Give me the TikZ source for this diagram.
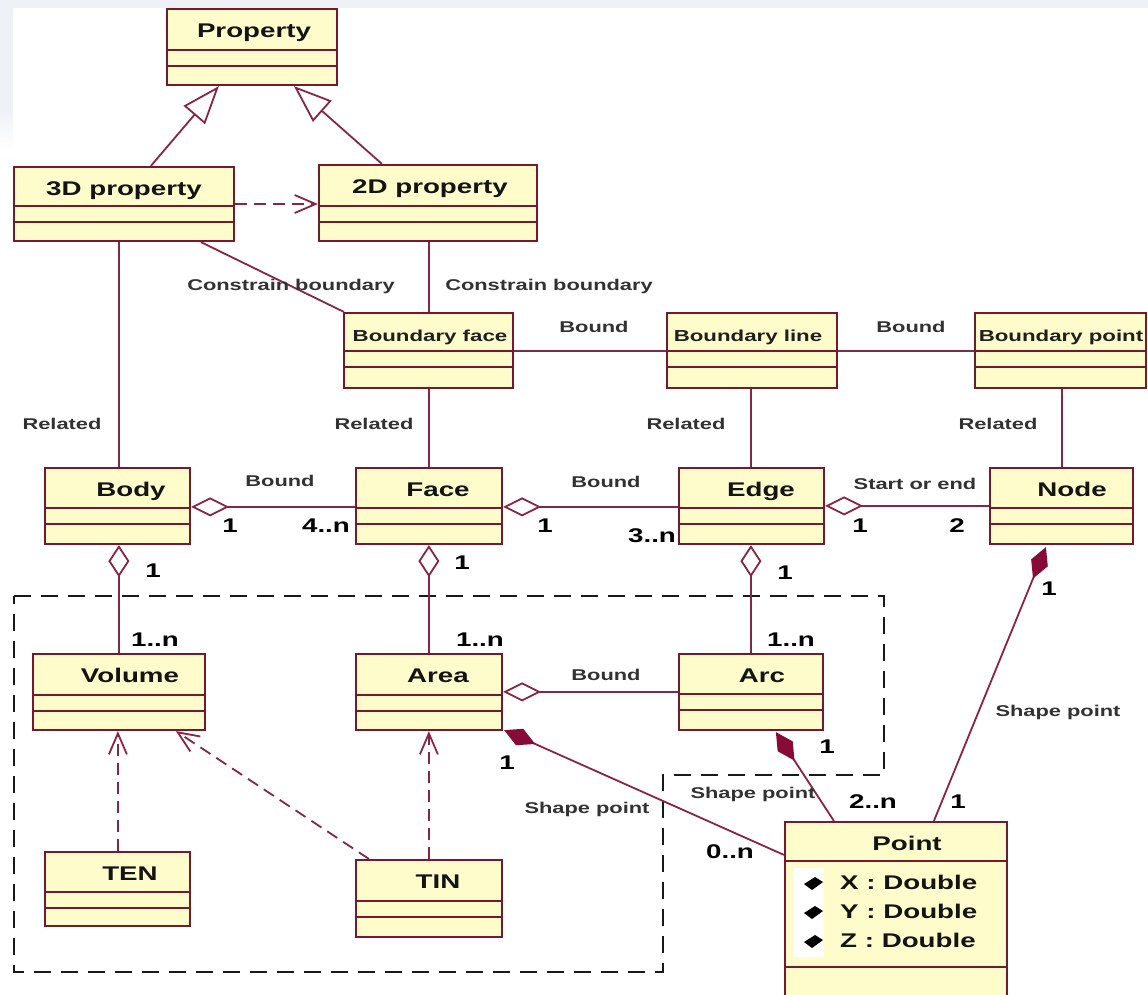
\documentclass[tikz,border=0pt]{standalone}
\usepackage{fontspec}
\newfontfamily\umlfont{Liberation Sans}[FakeStretch=1.4]
\usetikzlibrary{arrows.meta,calc}

\definecolor{umlborder}{RGB}{120,24,46}
\definecolor{umlline}{RGB}{138,36,68}
\definecolor{umlfill}{RGB}{255,252,204}
\definecolor{umlcomp}{RGB}{135,10,55}
\definecolor{labelgray}{RGB}{50,50,50}
\definecolor{bgstrip}{RGB}{238,241,246}

\tikzset{
  classbox/.style={draw=umlborder, fill=umlfill, line width=2.2pt, rectangle, inner sep=0pt},
  compline/.style={draw=umlborder, line width=1.9pt},
  classname/.style={font=\umlfont\bfseries\fontsize{19.8}{22}\selectfont, text=black!92, inner sep=0pt},
  smallname/.style={font=\umlfont\bfseries\fontsize{15.9}{18}\selectfont, text=black!88, inner sep=0pt},
  rolelabel/.style={font=\umlfont\bfseries\fontsize{15.6}{17}\selectfont, text=labelgray, inner sep=0pt, anchor=base},
  mult/.style={font=\umlfont\bfseries\fontsize{19.8}{22}\selectfont, text=black, inner sep=0pt, anchor=base},
  attr/.style={font=\umlfont\bfseries\fontsize{19.8}{22}\selectfont, text=black!92, inner sep=0pt, anchor=base west},
  assoc/.style={draw=umlline, line width=1.8pt},
  generalize/.style={assoc, -{Triangle[open, length=38pt, width=28pt, fill=white]}},
  depend/.style={assoc, dash pattern=on 12pt off 7pt, -{Straight Barb[length=21pt, width=18pt]}},
  aggr/.style={assoc, -{Diamond[open, length=38pt, width=19pt, fill=white]}},
  aggrv/.style={assoc, -{Diamond[open, length=32pt, width=21pt, fill=white]}},
  compos/.style={assoc, -{Diamond[length=34pt, width=18pt, fill=umlcomp, umlcomp]}},
  package/.style={draw=black!90, line width=2pt, dash pattern=on 17pt off 10pt},
}

% #1 name, #2 left, #3 top, #4 right, #5 bottom, #6 title x, #7 title style, #8 title, #9 title height
\newcommand\umlclass[9]{%
  \node[classbox, minimum width={#4-#2}, minimum height={#5-#3}] (#1) at ({(#2+#4)/2},{(#3+#5)/2}) {};
  \draw[compline] ($(#1.north west)+(0,#9)$) -- ($(#1.north east)+(0,#9)$);
  \draw[compline] ($(#1.north west)+(0,{#9+16})$) -- ($(#1.north east)+(0,{#9+16})$);
  \node[#7, anchor=base] (#1-t) at (#6,{#3+28}) {#8};
}

\begin{document}
\begin{tikzpicture}[x=1pt,y=-1pt]
\useasboundingbox (0,0) rectangle (1148,994);
\fill[white] (0,0) rectangle (1148,994);
\fill[bgstrip] (0,0) rectangle (1148,8);
\fill[bgstrip] (0,0) rectangle (13,110);
\shade[top color=bgstrip, bottom color=white] (0,110) rectangle (13,150);

% package frame around the geometry classes
\draw[package] (14,596) -- (884,596) -- (884,775) -- (663,775) -- (663,972) -- (14,972) -- cycle;

% classes
\umlclass{prop}{167}{9}{337}{85}{254}{classname}{Property}{42}
\umlclass{d3}{14}{167}{234}{241}{124}{classname}{3D property}{40}
\umlclass{d2}{319}{165}{537}{241}{430}{classname}{2D property}{42}
\umlclass{bface}{344}{313}{513}{388}{430}{smallname}{Boundary face}{39}
\umlclass{bline}{667}{313}{837}{388}{748}{smallname}{Boundary line}{39}
\umlclass{bpoint}{975}{313}{1146}{388}{1061}{smallname}{Boundary point}{39}
\umlclass{body}{45}{468}{190}{544}{131}{classname}{Body}{41}
\umlclass{face}{356}{468}{502}{544}{438}{classname}{Face}{41}
\umlclass{edge}{679}{468}{824}{544}{761}{classname}{Edge}{41}
\umlclass{nd}{990}{468}{1133}{544}{1072}{classname}{Node}{41}
\umlclass{vol}{33}{654}{205}{730}{130}{classname}{Volume}{42}
\umlclass{area}{356}{654}{502}{730}{438}{classname}{Area}{42}
\umlclass{arcc}{679}{654}{823}{730}{762}{classname}{Arc}{41}
\umlclass{ten}{45}{852}{190}{926}{130}{classname}{TEN}{41}
\umlclass{tin}{356}{860}{502}{937}{438}{classname}{TIN}{42}

% Point class with its attributes
\node[classbox, minimum width=222, minimum height=178] (pt) at (896,911) {};
\draw[compline] ($(pt.north west)+(0,40)$) -- ($(pt.north east)+(0,40)$);
\draw[compline] ($(pt.north west)+(0,146)$) -- ($(pt.north east)+(0,146)$);
\node[classname, anchor=base] (pt-t) at (907,850) {Point};
\fill[white] (794,868) rectangle (824,957);
\foreach \yy/\ax in {883/X,912/Y,941/Z} {
  \fill[black] (804,\yy+1) -- (815,\yy-6) -- (823,\yy-1) -- (812,\yy+7) -- cycle;
  \node[attr] (pt-\ax) at (840,\yy+6) {\ax\ : Double};
}

% generalizations and dependencies
\draw[generalize] ($(d3.north west)+(138,0)$) -- ($(prop.south west)+(53,0)$);
\draw[generalize] ($(d2.north west)+(64,0)$) -- ($(prop.south west)+(128,0)$);
\draw[depend] (d3.east) -- (d3.east -| d2.west);
\draw[depend] ($(ten.north west)+(74,0)$) -- ($(vol.south west)+(86,0)$);
\draw[depend] ($(tin.north west)+(14,0)$) -- ($(vol.south west)+(144,0)$);
\draw[depend] ($(tin.north west)+(74,0)$) -- ($(area.south west)+(74,0)$);

% associations
\draw[assoc] ($(d3.south west)+(106,0)$) -- ($(body.north west)+(75,0)$);
\draw[assoc] ($(d3.south west)+(188,0)$) -- ($(bface.north west)+(1,0)$);
\draw[assoc] ($(d2.south west)+(111,0)$) -- ($(bface.north west)+(86,0)$);
\draw[assoc] ($(bface.north east)+(0,39)$) -- ($(bline.north west)+(0,39)$);
\draw[assoc] ($(bline.north east)+(0,39)$) -- ($(bpoint.north west)+(0,39)$);
\draw[assoc] ($(bface.south west)+(86,0)$) -- ($(face.north west)+(74,0)$);
\draw[assoc] ($(bline.south west)+(85,0)$) -- ($(edge.north west)+(73,0)$);
\draw[assoc] ($(bpoint.south west)+(88,0)$) -- ($(nd.north west)+(73,0)$);

% aggregations
\draw[aggr] ($(face.north west)+(0,40)$) -- ($(body.north east)+(0,40)$);
\draw[aggr] ($(edge.north west)+(0,40)$) -- ($(face.north east)+(0,40)$);
\draw[aggr] ($(nd.north west)+(0,39)$) -- ($(edge.north east)+(0,39)$);
\draw[aggr] ($(arcc.north west)+(0,39)$) -- ($(area.north east)+(0,39)$);
\draw[aggrv] ($(vol.north west)+(87,0)$) -- ($(body.south west)+(75,0)$);
\draw[aggrv] ($(area.north west)+(74,0)$) -- ($(face.south west)+(74,0)$);
\draw[aggrv] ($(arcc.north west)+(73,0)$) -- ($(edge.south west)+(73,0)$);

% compositions
\draw[compos] ($(pt.north west)+(0,34)$) -- ($(area.south east)+(1,-1)$);
\draw[compos] ($(pt.north west)+(50,0)$) -- ($(arcc.south west)+(98,1)$);
\draw[compos] ($(pt.north west)+(150,0)$) -- ($(nd.south west)+(57,2)$);

% association names
\node[rolelabel] (l1) at (62,429) {Related};
\node[rolelabel] (l2) at (291,290) {Constrain boundary};
\node[rolelabel] (l3) at (549,290) {Constrain boundary};
\node[rolelabel] (l4) at (594,332) {Bound};
\node[rolelabel] (l5) at (911,332) {Bound};
\node[rolelabel] (l6) at (374,429) {Related};
\node[rolelabel] (l7) at (686,429) {Related};
\node[rolelabel] (l8) at (998,429) {Related};
\node[rolelabel] (l9) at (280,486) {Bound};
\node[rolelabel] (l10) at (606,487) {Bound};
\node[rolelabel] (l11) at (915,489) {Start or end};
\node[rolelabel] (l12) at (606,680) {Bound};
\node[rolelabel] (l13) at (587,813) {Shape point};
\node[rolelabel] (l14) at (753,798) {Shape point};
\node[rolelabel] (l15) at (1058,716) {Shape point};

% multiplicities
\node[mult] (m1) at (230,532) {1};
\node[mult] (m2) at (326,532) {4..n};
\node[mult] (m3) at (545,532) {1};
\node[mult] (m4) at (652,542) {3..n};
\node[mult] (m5) at (860,532) {1};
\node[mult] (m6) at (957,532) {2};
\node[mult] (m7) at (153,577) {1};
\node[mult] (m8) at (155,646) {1..n};
\node[mult] (m9) at (462,569) {1};
\node[mult] (m10) at (480,646) {1..n};
\node[mult] (m11) at (785,579) {1};
\node[mult] (m12) at (791,646) {1..n};
\node[mult] (m13) at (1049,595) {1};
\node[mult] (m14) at (507,769) {1};
\node[mult] (m15) at (827,753) {1};
\node[mult] (m16) at (730,858) {0..n};
\node[mult] (m17) at (873,808) {2..n};
\node[mult] (m18) at (958,808) {1};
\end{tikzpicture}
\end{document}
